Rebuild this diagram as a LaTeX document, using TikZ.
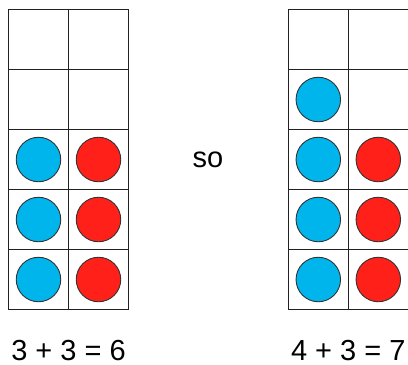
\documentclass[tikz,border=0pt]{standalone}
\usepackage{fontspec}
\setmainfont{Liberation Sans}
\definecolor{dotblue}{HTML}{00B5EC}
\definecolor{dotred}{HTML}{FF2119}
\definecolor{gridline}{HTML}{222222}
\definecolor{dotline}{HTML}{333333}
\begin{document}
\begin{tikzpicture}[x=1pt,y=-1pt,
  cellbox/.style={draw=gridline,line width=1.5pt,fill=white,minimum size=60pt,inner sep=0pt,outer sep=0pt,shape=rectangle},
  bluedot/.style={circle,draw=dotline,line width=0.9pt,fill=dotblue,minimum size=44.5pt,inner sep=0pt},
  reddot/.style={circle,draw=dotline,line width=0.9pt,fill=dotred,minimum size=44.5pt,inner sep=0pt},
  label/.style={font=\fontsize{29}{34}\selectfont,anchor=base,inner sep=0pt}]
\useasboundingbox (0,0) rectangle (408,365);
% left grid
\foreach \r in {1,...,5}{
  \node[cellbox] (L\r a) at (38.5,{9.5+60*\r-30}) {};
  \node[cellbox] (L\r b) at (98.5,{9.5+60*\r-30}) {};
}
% right grid
\foreach \r in {1,...,5}{
  \node[cellbox] (R\r a) at (318.3,{9.5+60*\r-30}) {};
  \node[cellbox] (R\r b) at (378.3,{9.5+60*\r-30}) {};
}
% left dots
\foreach \r in {3,4,5}{
  \node[bluedot] (LB\r) at (L\r a) {};
  \node[reddot] (LR\r) at (L\r b) {};
}
% right dots
\foreach \r in {2,3,4,5}{
  \node[bluedot] (RB\r) at (R\r a) {};
}
\foreach \r in {3,4,5}{
  \node[reddot] (RR\r) at (R\r b) {};
}
\node[label] (so) at (208,167) {so};
\node[label] (eqL) at (68.5,360) {3 + 3 = 6};
\node[label] (eqR) at (348.3,360) {4 + 3 = 7};
\end{tikzpicture}
\end{document}
